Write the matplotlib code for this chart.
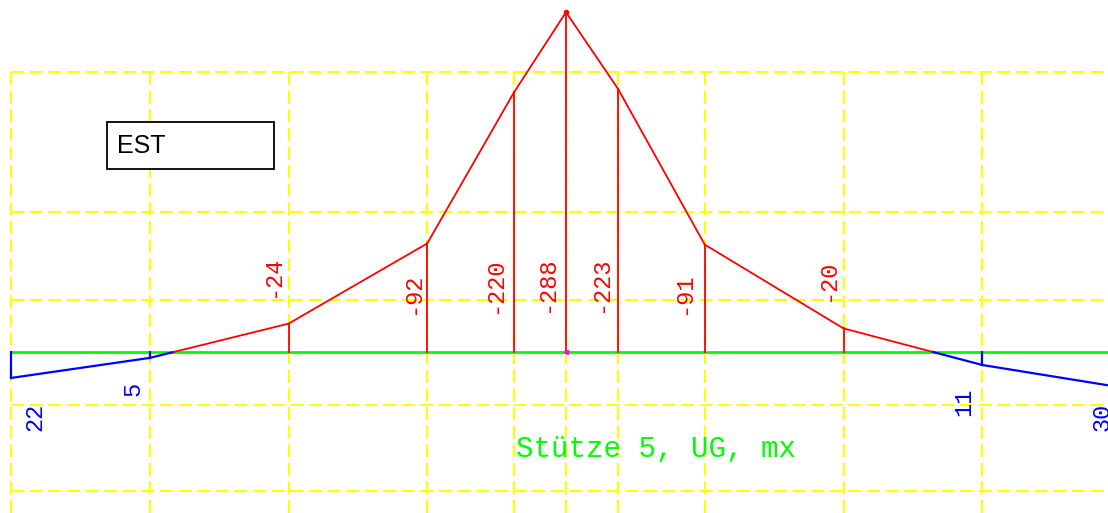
import numpy as np
import matplotlib
matplotlib.use("Agg")
import matplotlib.pyplot as plt

# stations along the member and moment values (mx)
Stations = [0.0, 1.0, 2.0, 3.0, 3.625, 4.0, 4.375, 5.0, 6.0, 7.0, 8.0]
Moments = [22, 5, -24, -92, -220, -288, -223, -91, -20, 11, 30]
Grid_Levels = [-237, -119, -44, 45, 118]
Title = "Stütze 5, UG, mx"
Box_Text = "EST"

# label placement: horizontal offset (px) and anchor level (moment units)
Label_Dx = [24, -17, -16, -15, -19, -19, -17, -21, -16, -19, -19]
Label_Y = [43, 25, -46, -31, -32, -33, -33, -31, -42, 30, 43]

RED = "#ff0000"
BLUE = "#0000ff"
GREEN = "#00ff00"
YELLOW = "#ffff00"

plt.rcParams["lines.scale_dashes"] = False
fig = plt.figure(figsize=(11.08, 5.13), dpi=100)
ax = fig.add_axes([0, 0, 1, 1])
ax.set_xlim(-11 / 138.75, 1097 / 138.75)
ax.set_ylim(161 / 1.18, -352 / 1.18)
ax.axis("off")

# yellow dashed grid
Top = Grid_Levels[0]
for x in Stations:
    ax.plot([x, x], [Top, 200], color=YELLOW, lw=1.5, dashes=(9.4, 4.0), zorder=1)
for y in Grid_Levels:
    ax.plot([Stations[0], 20], [y, y], color=YELLOW, lw=1.5, dashes=(9.4, 4.0), zorder=1)

# baseline
ax.plot([Stations[0], 20], [0, 0], color=GREEN, lw=2.0, zorder=3)

# moment line, red where negative, blue where positive
for i in range(len(Stations) - 1):
    x0, x1 = Stations[i], Stations[i + 1]
    v0, v1 = Moments[i], Moments[i + 1]
    if v0 * v1 < 0:
        xc = x0 + (x1 - x0) * v0 / (v0 - v1)
        ax.plot([x0, xc], [v0, 0], color=RED if v0 < 0 else BLUE, lw=1.3 if v0 < 0 else 1.6, zorder=4)
        ax.plot([xc, x1], [0, v1], color=RED if v1 < 0 else BLUE, lw=1.3 if v1 < 0 else 1.6, zorder=4)
    else:
        neg = (v0 + v1) < 0
        ax.plot([x0, x1], [v0, v1], color=RED if neg else BLUE, lw=1.3 if neg else 1.6, zorder=4)

# ordinates and value labels
for i in range(len(Stations)):
    x, v = Stations[i], Moments[i]
    c = RED if v < 0 else BLUE
    ax.plot([x, x], [0, v], color=c, lw=1.3 if v < 0 else 1.6, zorder=4)
    ax.annotate(str(v), xy=(x, Label_Y[i]), xytext=(Label_Dx[i] * 0.72, 0),
                textcoords="offset points", rotation=90, color=c,
                ha="center", va="bottom" if v < 0 else "top",
                family="Liberation Mono", fontsize=17, zorder=5,
                annotation_clip=False)

# peak marker
k = int(np.argmin(Moments))
ax.plot(Stations[k], Moments[k], "o", color=RED, ms=3, zorder=5)
ax.plot(Stations[k], 0, marker="<", color="#ff00ff", ms=3, zorder=5)

# title
ax.text(516 / 1108, 1 - 449 / 513, Title, transform=ax.transAxes, color=GREEN,
        family="Liberation Mono", fontsize=21, ha="left", va="center", zorder=5)

# EST box
ax.text(117 / 1108, 1 - 146 / 513, Box_Text, transform=ax.transAxes, color="black",
        family="Liberation Sans", fontsize=18, ha="left", va="center", zorder=6)
rect = plt.Rectangle((107 / 1108, 1 - 169 / 513), 167 / 1108, 47 / 513, transform=ax.transAxes,
                     facecolor="white", edgecolor="black", lw=1.3, zorder=5)
ax.add_patch(rect)

fig.savefig("out.png", dpi=100, facecolor="white")
